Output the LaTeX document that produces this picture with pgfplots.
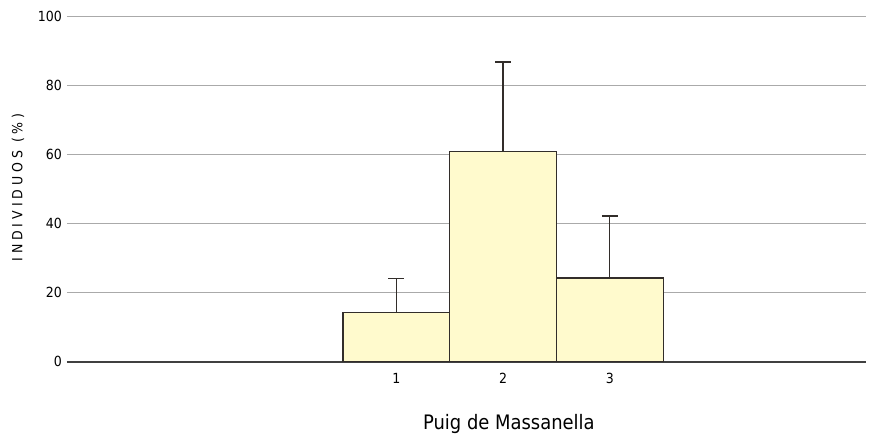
\documentclass[border=0pt]{standalone}
\usepackage{pgfplots}
\pgfplotsset{compat=1.18}
\usepackage{fontspec}
\setmainfont{DejaVu Sans}[FakeStretch=0.9]
\newfontfamily\spacedfont{DejaVu Sans}[FakeStretch=0.9, LetterSpace=28]
\definecolor{barfill}{RGB}{255,250,205}
\definecolor{baredge}{RGB}{50,45,42}
\definecolor{gridc}{RGB}{170,170,170}
\definecolor{zeroc}{RGB}{64,64,64}
\begin{document}
\begin{tikzpicture}
\useasboundingbox (-67bp,-75.3bp) rectangle (802bp,361.7bp);
\begin{axis}[
  at={(0,0)}, anchor=south west,
  scale only axis,
  width=799bp, height=345bp,
  xmin=-2.085, xmax=5.40,
  ymin=0, ymax=100,
  axis line style={draw=none},
  tick style={draw=none},
  xtick={1,2,3},
  ytick={0,20,40,60,80,100},
  ymajorgrids,
  grid style={gridc, line width=1.3bp},
  extra y ticks={0},
  extra y tick labels={},
  extra y tick style={grid style={zeroc, line width=1.7bp}},
  /pgf/number format/assume math mode=true,
  ticklabel style={font=\fontsize{14}{16}\selectfont},
  yticklabel style={anchor=east, inner sep=0pt, xshift=-5bp},
  xticklabel style={anchor=center, inner sep=0pt, yshift=-16.3bp},
  ylabel={\spacedfont\fontsize{14}{16}\selectfont INDIVIDUOS (\%)},
  ylabel style={at={(axis description cs:-0.0613,0.505)}, anchor=center, rotate=0},
  xlabel={\fontsize{20}{24}\selectfont Puig de Massanella},
  xlabel style={at={(axis description cs:0.553,-0.1806)}, anchor=center},
  clip=false,
]
\addplot[ybar, bar width=1, fill=barfill, draw=baredge, line width=1.3bp,
  error bars/.cd, y dir=plus, y explicit,
  error bar style={baredge, line width=1.3bp},
  error mark options={baredge, line width=1.3bp, mark size=8bp, rotate=90}]
  coordinates {
  (1,14.3) +- (0,9.8)
  (2,60.9) +- (0,26.0)
  (3,24.3) +- (0,17.9)
  };
\end{axis}
\end{tikzpicture}
\end{document}
